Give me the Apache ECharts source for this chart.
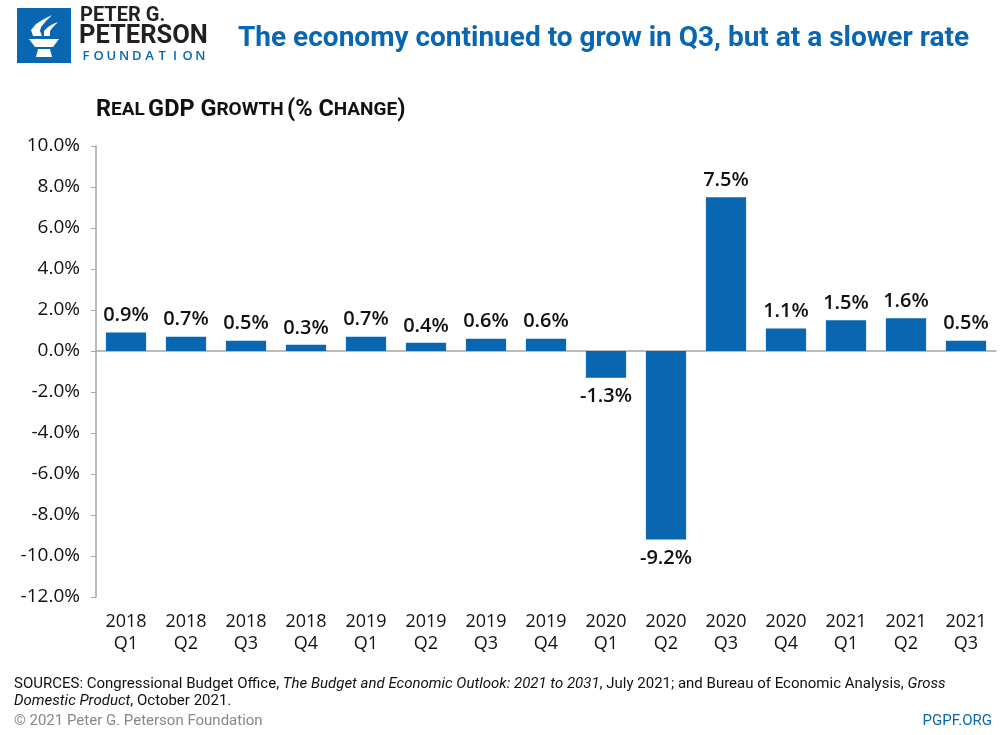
<!DOCTYPE html>
<html><head><meta charset="utf-8">
<script src="https://cdn.jsdelivr.net/npm/echarts@6/dist/echarts.min.js"></script>
<style>html,body{margin:0;padding:0;background:#fff}#c{width:1000px;height:735px}</style>
</head><body><div id="c"></div>
<script>
const categories = ['2018\nQ1','2018\nQ2','2018\nQ3','2018\nQ4','2019\nQ1','2019\nQ2','2019\nQ3','2019\nQ4','2020\nQ1','2020\nQ2','2020\nQ3','2020\nQ4','2021\nQ1','2021\nQ2','2021\nQ3'];
const gdpGrowth = [0.9,0.7,0.5,0.3,0.7,0.4,0.6,0.6,-1.3,-9.2,7.5,1.1,1.5,1.6,0.5];
const yMin = -12, yMax = 10, yStep = 2;
const titleText = 'The economy continued to grow in Q3, but at a slower rate';

const BLUE = '#0966b0';
const FONT = 'Open Sans';
const chart = echarts.init(document.getElementById('c'));

const foundation = 'FOUNDATION'.split('');
const logoLetters = foundation.map((ch, i) => ({
  type: 'text', x: 86 + i * 12.7, y: 50,
  style: { text: ch, fill: BLUE, font: '600 13px "Open Sans"', textAlign: 'center' }
}));

chart.setOption({
  animation: false,
  grid: { left: 96, right: 4, top: 146, bottom: 138, containLabel: false },
  xAxis: [{
    type: 'category', data: categories, position: 'bottom',
    axisLine: { show: false, onZero: false }, axisTick: { show: false },
    axisLabel: { color: '#111', fontFamily: FONT, fontSize: 18, lineHeight: 22, margin: 14, interval: 0 }
  }, {
    type: 'category', data: categories, position: 'bottom',
    axisLine: { show: true, onZero: true, lineStyle: { color: '#a6a6a6', width: 1.5 } },
    axisTick: { show: false }, axisLabel: { show: false }
  }],
  yAxis: {
    type: 'value', min: yMin, max: yMax, interval: yStep,
    axisLine: { show: true, lineStyle: { color: '#a6a6a6', width: 1.5 } },
    axisTick: { show: true, length: 5, lineStyle: { color: '#a6a6a6' } },
    splitLine: { show: false },
    axisLabel: { color: '#111', fontFamily: FONT, fontSize: 19, margin: 16, formatter: v => v.toFixed(1) + '%' }
  },
  series: [{
    type: 'bar', xAxisIndex: 0, barWidth: '67%',
    itemStyle: { color: BLUE },
    data: gdpGrowth.map(v => ({
      value: v,
      label: { position: v < 0 ? 'bottom' : 'top', distance: v < 0 ? 9 : 7 }
    })),
    label: { show: true, color: '#111', fontFamily: FONT, fontWeight: 600, fontSize: 20, formatter: p => p.value.toFixed(1) + '%' }
  }],
  graphic: [
    { type: 'rect', x: 17, y: 8, shape: { x: 0, y: 0, width: 54, height: 55 }, style: { fill: BLUE } },
    { type: 'polygon', shape: { points: [[29,39],[59,39],[53,47],[35,47]] }, style: { fill: '#fff' } },
    { type: 'polygon', shape: { points: [[38,49],[50,49],[52,57],[36,57]] }, style: { fill: '#fff' } },
    { type: 'polygon', shape: { points: [[33,36],[31,30],[36,24],[44,19],[52,15],[46,21],[41,27],[40,31],[42,36]] }, style: { fill: '#fff' } },
    { type: 'polygon', shape: { points: [[44,36],[44,31],[48,27],[53,24],[58,22],[53,27],[50,31],[50,36]] }, style: { fill: '#fff' } },
    { type: 'text', x: 80, y: 6, style: { text: 'PETER G.', fill: '#231f20', font: 'bold 20px "Roboto"' } },
    { type: 'text', x: 79, y: 24, style: { text: 'PETERSON', fill: '#231f20', font: 'bold 25.5px "Roboto"' } },
    ...logoLetters,
    { type: 'text', x: 238, y: 25, style: { text: titleText, fill: BLUE, font: 'bold 28px "Roboto"' } },
    { type: 'text', x: 96, y: 98, style: {
        text: '{b|R}{s|EAL} {b|GDP G}{s|ROWTH} {b|(% C}{s|HANGE}{b|)}',
        rich: { b: { fontFamily: 'Roboto', fontWeight: 'bold', fontSize: 23.5, fill: '#111' },
                s: { fontFamily: 'Roboto', fontWeight: 'bold', fontSize: 19, fill: '#111' } } } },
    { type: 'text', x: 14, y: 676, style: {
        text: '{n|SOURCES: Congressional Budget Office, }{i|The Budget and Economic Outlook: 2021 to 2031}{n|, July 2021; and Bureau of Economic Analysis, }{i|Gross}\n{i|Domestic Product}{n|, October 2021.}',
        rich: { n: { fontFamily: 'Roboto', fontSize: 15, fill: '#111', lineHeight: 17 },
                i: { fontFamily: 'Roboto', fontStyle: 'italic', fontSize: 15, fill: '#111', lineHeight: 17 } } } },
    { type: 'text', x: 14, y: 714, style: { text: '\u00a9 2021 Peter G. Peterson Foundation', fill: '#888', font: '15px "Roboto"' } },
    { type: 'text', x: 992, y: 714, style: { text: 'PGPF.ORG', fill: BLUE, font: '15px "Roboto"', textAlign: 'right' } }
  ]
});
</script></body></html>
